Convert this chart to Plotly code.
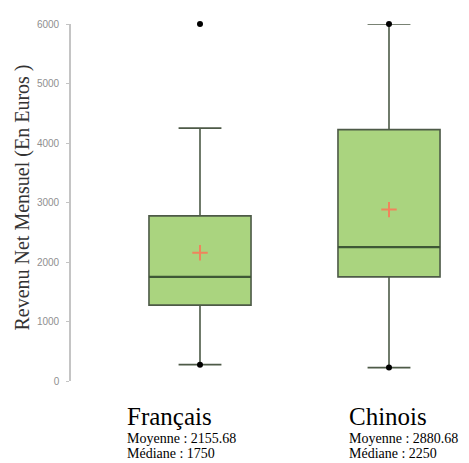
import plotly.graph_objects as go

categories = ["Français", "Chinois"]
q1 = [1275, 1750]
median = [1750, 2250]
q3 = [2775, 4225]
lower = [275, 225]
upper = [4250, 6000]
means = [2155.68, 2880.68]
outliers = [[6000], []]
end_points = [[275], [225, 6000]]
yticks = [0, 1000, 2000, 3000, 4000, 5000, 6000]

# figure is drawn at an 8px body offset inside the page
OFF = 8
W, H = 461, 455
L, R, T, B = 63, 10, 12, 82
plot_w = W - L - R
plot_h = H - T - B

xpos = [0, 1]
box_w = 0.54
fig = go.Figure()
for i, c in enumerate(categories):
    fig.add_trace(go.Box(
        x=[xpos[i]], q1=[q1[i]], median=[median[i]], q3=[q3[i]],
        lowerfence=[lower[i]], upperfence=[upper[i]],
        width=box_w, whiskerwidth=0.42,
        fillcolor="#aad47f", line=dict(color="#4d5a47", width=1.6),
        boxpoints=False, showlegend=False, hoverinfo="skip",
    ))
    # emphasised median line
    fig.add_trace(go.Scatter(
        x=[xpos[i] - box_w / 2, xpos[i] + box_w / 2], y=[median[i], median[i]],
        mode="lines", line=dict(color="#3e5736", width=2.4), showlegend=False, hoverinfo="skip",
    ))
    pts = outliers[i] + end_points[i]
    fig.add_trace(go.Scatter(
        x=[xpos[i]] * len(pts), y=pts, mode="markers",
        marker=dict(color="black", size=6), cliponaxis=False, showlegend=False,
    ))
    fig.add_trace(go.Scatter(
        x=[xpos[i]], y=[means[i]], mode="markers",
        marker=dict(symbol="cross-thin", size=11, line=dict(color="#f0845c", width=2)),
        cliponaxis=False, showlegend=False,
    ))

def px2paper_x(p):  # p in screenshot pixels
    return (p - OFF - L) / plot_w

def px2paper_y(p):
    return (H - B - (p - OFF)) / plot_h

label_left = [125, 347]
serif = "Liberation Serif, Times New Roman, serif"
annotations = []
for i, c in enumerate(categories):
    x = px2paper_x(label_left[i])
    annotations.append(dict(text=c, x=x, y=px2paper_y(401), xref="paper", yref="paper",
                            xanchor="left", yanchor="top", showarrow=False,
                            font=dict(family=serif, size=25, color="black")))
    annotations.append(dict(text=f"Moyenne : {means[i]:.2f}", x=x, y=px2paper_y(430), xref="paper", yref="paper",
                            xanchor="left", yanchor="top", showarrow=False,
                            font=dict(family=serif, size=14, color="black")))
    annotations.append(dict(text=f"Médiane : {median[i]}", x=x, y=px2paper_y(445), xref="paper", yref="paper",
                            xanchor="left", yanchor="top", showarrow=False,
                            font=dict(family=serif, size=14, color="black")))

annotations.append(dict(text="Revenu Net Mensuel (En Euros )", textangle=-90,
                        x=px2paper_x(22.5), y=px2paper_y(196), xref="paper", yref="paper",
                        xanchor="center", yanchor="middle", showarrow=False,
                        font=dict(family=serif, size=20, color="#333333")))

fig.update_layout(
    width=W, height=H,
    margin=dict(l=L, r=R, t=T, b=B, pad=0),
    paper_bgcolor="white", plot_bgcolor="white",
    xaxis=dict(range=[-129 / 189, 1 + 70 / 189], showticklabels=False, showgrid=False,
               zeroline=False, showline=False, ticks=""),
    yaxis=dict(range=[0, 6000], tickvals=yticks, ticktext=[str(v) for v in yticks],
               showgrid=False, zeroline=False, showline=True, linecolor="#c4c4c4", linewidth=1.6,
               ticks="outside", ticklen=3, tickcolor="#c4c4c4", ticklabelstandoff=5,
               tickfont=dict(family="Liberation Sans, Arial, sans-serif", size=10, color="#8f8f8f")),
    annotations=annotations,
)
fig.write_html("out.html")
